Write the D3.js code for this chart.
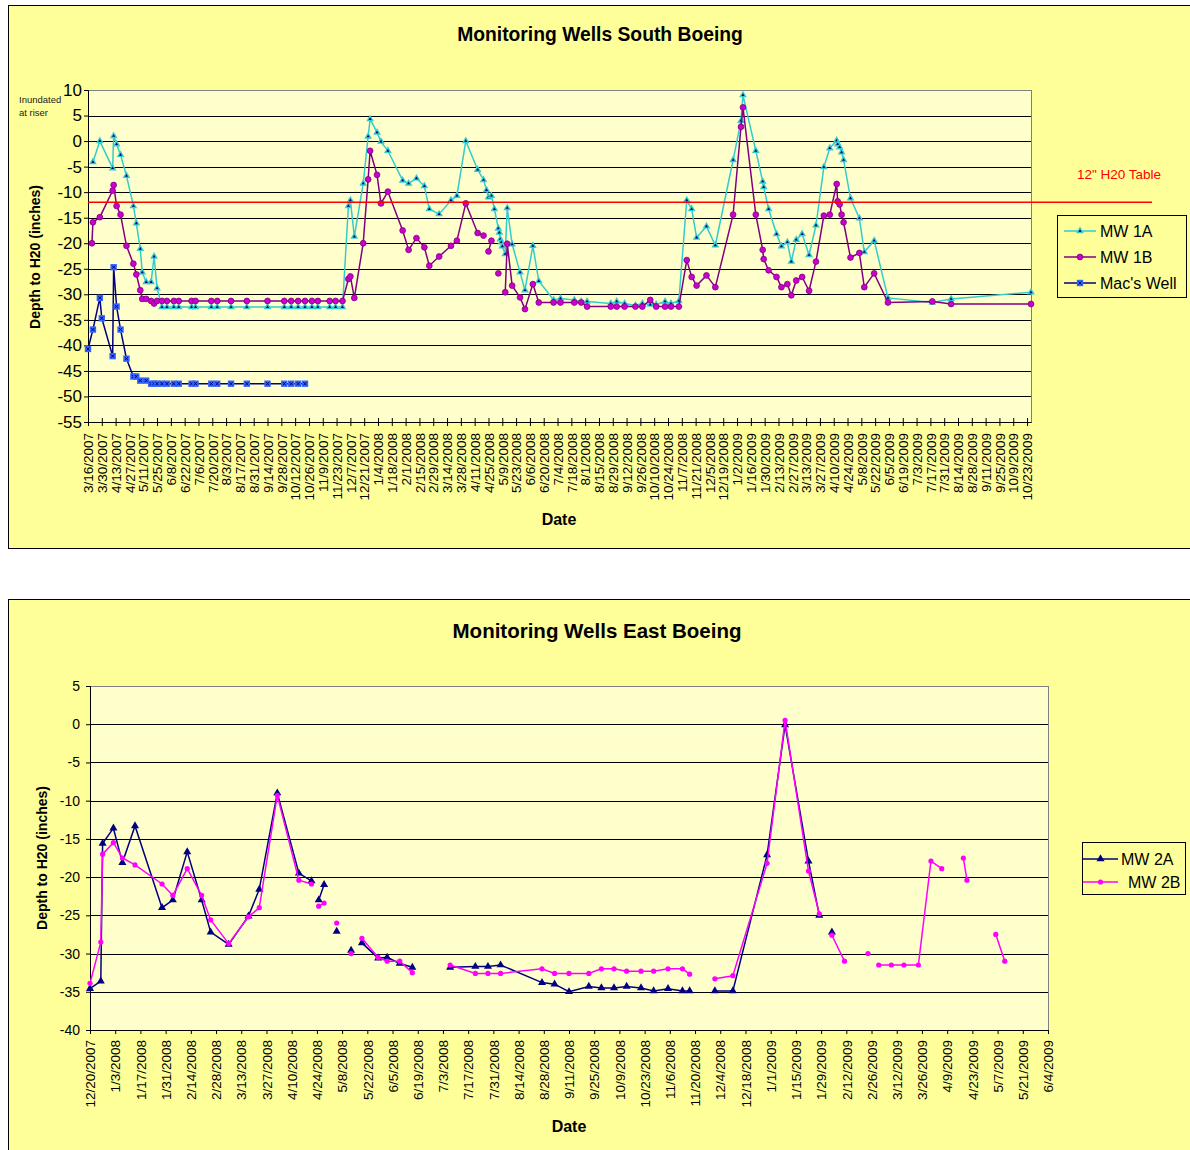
<!DOCTYPE html>
<html>
<head>
<meta charset="utf-8">
<script src="https://cdn.jsdelivr.net/npm/d3@7"></script>
<style>
body { margin: 0; background: #fff; }
text { font-family: Arial, "Liberation Sans", sans-serif; }
</style>
</head>
<body>
<div id="chart"></div>
<script>

// ---- South Boeing wells (MW 1A / MW 1B share one date column)
var southDates = ["2007-03-20","2007-03-21","2007-03-28","2007-04-10","2007-04-11","2007-04-14","2007-04-18","2007-04-24","2007-05-01","2007-05-04",
  "2007-05-08","2007-05-10","2007-05-14","2007-05-19","2007-05-22","2007-05-25","2007-05-30","2007-06-04","2007-06-11","2007-06-16",
  "2007-06-29","2007-07-03","2007-07-19","2007-07-25","2007-08-08","2007-08-24","2007-09-14","2007-10-01","2007-10-08","2007-10-15",
  "2007-10-22","2007-10-29","2007-11-04","2007-11-16","2007-11-22","2007-11-29","2007-12-05","2007-12-07","2007-12-11","2007-12-20",
  "2007-12-25","2007-12-27","2008-01-03","2008-01-07","2008-01-14","2008-01-29","2008-02-04","2008-02-12","2008-02-20","2008-02-25",
  "2008-03-06","2008-03-18","2008-03-24","2008-04-02","2008-04-14","2008-04-20","2008-04-23","2008-04-25","2008-04-28","2008-05-01",
  "2008-05-05","2008-05-06","2008-05-07","2008-05-08","2008-05-09","2008-05-12","2008-05-14","2008-05-19","2008-05-27","2008-06-01",
  "2008-06-09","2008-06-15","2008-06-30","2008-07-07","2008-07-21","2008-07-28","2008-08-03","2008-08-27","2008-09-02","2008-09-10",
  "2008-09-21","2008-09-28","2008-10-06","2008-10-12","2008-10-21","2008-10-27","2008-11-04","2008-11-12","2008-11-17","2008-11-22",
  "2008-12-02","2008-12-11","2008-12-29","2009-01-06","2009-01-08","2009-01-21","2009-01-28","2009-01-29","2009-02-03","2009-02-11",
  "2009-02-16","2009-02-22","2009-02-26","2009-03-03","2009-03-09","2009-03-16","2009-03-23","2009-03-31","2009-04-06","2009-04-13",
  "2009-04-14","2009-04-16","2009-04-18","2009-04-20","2009-04-27","2009-05-06","2009-05-11","2009-05-21","2009-06-04","2009-07-19",
  "2009-08-07","2009-10-27"];

var mw1a = [null, -4.1, 0.0, -5.3, 1.0, -0.6, -2.7, -6.8, -12.7, -16.1,
  -21.1, -25.7, -27.6, -27.6, -22.6, -28.8, -32.5, -32.5, -32.5, -32.5,
  -32.5, -32.5, -32.5, -32.5, -32.5, -32.5, -32.5, -32.5, -32.5, -32.5,
  -32.5, -32.5, -32.5, -32.5, -32.5, -32.5, -12.7, -11.6, -18.7, -8.3,
  0.9, 4.3, 1.7, -0.1, -1.9, -7.7, -8.3, -7.3, -8.8, -13.3,
  -14.3, -11.6, -10.7, 0.0, -5.6, -7.6, -9.6, -11.0, -10.7, -13.3,
  -17.1, -17.9, -19.2, -19.8, -20.6, -22.1, -13.1, -20.2, -25.7, -29.2,
  -20.5, -27.4, -31.1, -30.8, -31.1, -31.4, -31.4, -31.8, -31.4, -31.8,
  -32.2, -31.8, -32.0, -32.0, -31.4, -31.8, -31.3, -11.6, -13.3, -18.9,
  -16.7, -20.4, -3.7, 4.0, 9.0, -1.9, -7.9, -9.0, -13.3, -18.2,
  -20.6, -19.8, -23.6, -19.3, -18.2, -22.3, -16.5, -5.1, -1.4, 0.1,
  -0.6, -1.2, -2.2, -3.7, -11.2, -15.1, -21.7, -19.5, -30.7, -31.6,
  -30.9, -29.6];

var mw1b = [-20.0, -15.9, -14.9, -9.7, -8.6, -12.7, -14.4, -20.5, -24.0, -26.1,
  -29.2, -30.9, -30.9, -31.3, -31.8, -31.3, -31.3, -31.3, -31.3, -31.3,
  -31.3, -31.3, -31.3, -31.3, -31.3, -31.3, -31.3, -31.3, -31.3, -31.3,
  -31.3, -31.3, -31.3, -31.3, -31.3, -31.3, -27.0, -26.5, -30.7, -20.0,
  -7.5, -1.9, -6.6, -12.2, -9.9, -17.5, -21.3, -19.0, -20.8, -24.4,
  -22.6, -20.5, -19.5, -12.2, -18.0, -18.5, null, -21.6, -19.5, null,
  -25.9, null, null, null, null, -29.6, -20.1, -28.3, -30.6, -32.9,
  -28.0, -31.6, -31.6, -31.6, -31.6, -31.6, -32.4, -32.4, -32.4, -32.4,
  -32.4, -32.4, -31.1, -32.4, -32.4, -32.4, -32.4, -23.3, -26.6, -28.3,
  -26.3, -28.6, -14.4, 2.8, 6.6, -14.4, -21.3, -23.1, -25.3, -26.6,
  -28.6, -28.0, -30.2, -27.3, -26.6, -29.3, -23.6, -14.6, -14.4, -8.4,
  -11.8, -12.4, -14.4, -15.9, -22.8, -21.9, -28.6, -25.9, -31.6, -31.4,
  -31.9, -31.9];

var macDates = ["2007-03-16","2007-03-21","2007-03-28","2007-03-30","2007-04-10","2007-04-11","2007-04-14","2007-04-18","2007-04-24","2007-05-01",
  "2007-05-04","2007-05-08","2007-05-14","2007-05-19","2007-05-22","2007-05-25","2007-05-30","2007-06-04","2007-06-11","2007-06-16",
  "2007-06-29","2007-07-03","2007-07-19","2007-07-25","2007-08-08","2007-08-24","2007-09-14","2007-10-01","2007-10-08","2007-10-15",
  "2007-10-22"];
var macWell = [-40.7, -36.9, -30.7, -34.7, -42.1, -24.7, -32.4, -36.9, -42.6, -46.1,
  -46.1, -46.9, -46.9, -47.5, -47.5, -47.5, -47.5, -47.5, -47.5, -47.5,
  -47.5, -47.5, -47.5, -47.5, -47.5, -47.5, -47.5, -47.5, -47.5, -47.5,
  -47.5];

var southYTicks = [10, 5, 0, -5, -10, -15, -20, -25, -30, -35, -40, -45, -50, -55];
var southRange = ["2007-03-16", "2009-10-27"];
var southFirstTick = "2007-03-16", southLastTick = "2009-10-23";
var waterTable = -12;

// ---- East Boeing wells
var eastDates = ["2007-12-20","2007-12-26","2007-12-27","2008-01-02","2008-01-07","2008-01-14","2008-01-29","2008-02-04","2008-02-12","2008-02-20",
  "2008-02-25","2008-03-06","2008-03-17","2008-03-23","2008-04-02","2008-04-14","2008-04-21","2008-04-23","2008-04-25","2008-04-28",
  "2008-05-01","2008-05-05","2008-05-09","2008-05-13","2008-05-16","2008-05-19","2008-05-28","2008-06-02","2008-06-09","2008-06-16",
  "2008-06-25","2008-07-07","2008-07-21","2008-07-28","2008-08-04","2008-08-27","2008-09-03","2008-09-11","2008-09-22","2008-09-29",
  "2008-10-06","2008-10-13","2008-10-21","2008-10-28","2008-11-05","2008-11-13","2008-11-17","2008-11-24","2008-12-01","2008-12-11",
  "2008-12-30","2009-01-09","2009-01-22","2009-01-28","2009-02-01","2009-02-04","2009-02-11","2009-02-18","2009-02-24","2009-02-27",
  "2009-03-02","2009-03-09","2009-03-16","2009-03-24","2009-03-31","2009-04-06","2009-04-12","2009-04-18","2009-04-20","2009-04-28",
  "2009-05-06","2009-05-11"];

var mw2a = [-34.6, -33.6, -15.6, -13.6, -18.1, -13.3, -24.0, -23.0, -16.7, -23.0,
  -27.2, -28.8, -25.1, -21.6, -9.0, -19.5, -20.5, null, -23.0, -21.0,
  null, -27.1, null, -29.6, null, -28.6, -30.6, -30.5, -31.3, -31.8,
  null, -31.8, -31.7, -31.7, -31.5, -33.8, -34.0, -35.0, -34.3, -34.5,
  -34.5, -34.3, -34.5, -34.9, -34.6, -34.9, -34.9, null, -34.9, -34.9,
  -17.1, -0.1, -17.9, -25.0, null, -27.2, null, null, null, null,
  null, null, null, null, null, null, null, null, null, null,
  null, null];

var mw2b = [-33.9, -28.5, -17.0, -15.5, -17.5, -18.4, -20.9, -22.4, -18.9, -22.4,
  -25.6, -28.7, -25.2, -24.0, -9.3, -20.4, -20.9, null, -23.8, -23.4,
  null, -26.0, null, -30.0, null, -28.0, -30.5, -31.0, -31.0, -32.5,
  null, -31.5, -32.6, -32.6, -32.6, -32.0, -32.6, -32.6, -32.6, -32.0,
  -32.0, -32.3, -32.3, -32.3, -32.0, -32.0, -32.7, null, -33.3, -32.9,
  -18.2, 0.5, -19.2, -24.8, null, -27.6, -31.0, null, -30.0, null,
  -31.5, -31.5, -31.5, -31.5, -17.9, -18.9, null, -17.5, -20.4, null,
  -27.5, -31.0];

var eastYTicks = [5, 0, -5, -10, -15, -20, -25, -30, -35, -40];
var eastRange = ["2007-12-20", "2009-06-04"];
var eastFirstTick = "2007-12-20", eastLastTick = "2009-06-04";

var parse = d3.timeParse("%Y-%m-%d");
function fmt(d) { return (d.getMonth() + 1) + "/" + d.getDate() + "/" + d.getFullYear(); }

var svg = d3.select("#chart").append("svg")
    .attr("width", 1190)
    .attr("height", 1150);

// markers
function triCyan(g) {
  g.append("path").attr("d", d3.symbol(d3.symbolTriangle, 26)()).attr("fill", "#33CCCC");
  g.append("path").attr("d", d3.symbol(d3.symbolTriangle, 4)()).attr("fill", "#000080");
}
function dotPurple(g) {
  g.append("circle").attr("r", 2.9).attr("fill", "#CC00CC").attr("stroke", "#800080").attr("stroke-width", 0.8);
}
function sqBlue(g) {
  g.append("rect").attr("x", -3.2).attr("y", -3.2).attr("width", 6.4).attr("height", 6.4).attr("fill", "#3366FF");
  g.append("path").attr("d", "M-1.6,-1.6L1.6,1.6M1.6,-1.6L-1.6,1.6").attr("stroke", "#000080").attr("stroke-width", 1);
}
function triNavy(g) {
  g.append("path").attr("d", d3.symbol(d3.symbolTriangle, 28)()).attr("fill", "#000080");
}
function dotPink(g) {
  g.append("circle").attr("r", 2.6).attr("fill", "#FF00FF");
}

function panel(y0, h) {
  svg.append("rect")
      .attr("x", 8.5).attr("y", y0 + 0.5)
      .attr("width", 1200).attr("height", h)
      .attr("fill", "#FFFF99").attr("stroke", "#000");
}

function chart(o) {
  var g = svg.append("g");
  var x = d3.scaleTime().domain(o.xDomain.map(parse)).range([o.left, o.right]);
  var y = d3.scaleLinear().domain(d3.extent(o.yTicks)).range([o.bottom, o.top]);

  g.append("rect")
      .attr("x", o.left + 0.5).attr("y", o.top + 0.5)
      .attr("width", o.right - o.left).attr("height", o.bottom - o.top)
      .attr("fill", "#FFFFCC").attr("stroke", "#808080");

  g.append("g").selectAll("line")
      .data(o.yTicks.slice(1, -1))
      .enter().append("line")
      .attr("x1", o.left).attr("x2", o.right)
      .attr("y1", function(d) { return Math.round(y(d)) + 0.5; })
      .attr("y2", function(d) { return Math.round(y(d)) + 0.5; })
      .attr("stroke", "#000");

  var yAxis = g.append("g")
      .attr("transform", "translate(" + o.left + ",0)")
      .call(d3.axisLeft(y).tickValues(o.yTicks).tickSize(4).tickPadding(o.yPad).tickFormat(String));
  yAxis.attr("font-size", o.yFont).attr("font-family", "Arial, 'Liberation Sans', sans-serif");
  yAxis.selectAll(".tick text").attr("fill", "#000");

  var ticks = d3.timeDay.range(parse(o.firstTick), d3.timeDay.offset(parse(o.lastTick), 1), 14);
  var xAxis = g.append("g")
      .attr("transform", "translate(0," + o.bottom + ")")
      .call(d3.axisBottom(x).tickValues(ticks).tickSize(4).tickSizeOuter(0).tickFormat(fmt));
  xAxis.attr("font-size", 13.5).attr("font-family", "Arial, 'Liberation Sans', sans-serif");
  xAxis.selectAll(".tick text")
      .attr("transform", "rotate(-90)")
      .attr("x", -o.xPad).attr("y", 0).attr("dy", "0.35em")
      .style("text-anchor", "end");
  if (o.cross) xAxis.selectAll(".tick line").attr("y1", -4);

  o.series.forEach(function(s) {
    var pts = s.dates.map(function(d, i) { return { date: parse(d), v: s.values[i] }; });
    var line = d3.line()
        .defined(function(d) { return d.v != null; })
        .x(function(d) { return x(d.date); })
        .y(function(d) { return y(d.v); });
    g.append("path").datum(pts)
        .attr("d", line)
        .attr("fill", "none")
        .attr("stroke", s.color)
        .attr("stroke-width", 1.5);
    g.append("g").selectAll("g")
        .data(pts.filter(function(d) { return d.v != null; }))
        .enter().append("g")
        .attr("transform", function(d) { return "translate(" + x(d.date) + "," + y(d.v) + ")"; })
        .each(function() { s.marker(d3.select(this)); });
  });

  return { x: x, y: y };
}

function legend(box, items) {
  svg.append("rect")
      .attr("x", box.x + 0.5).attr("y", box.y + 0.5)
      .attr("width", box.w).attr("height", box.h)
      .attr("fill", "#FFFF99").attr("stroke", "#000");
  items.forEach(function(it, i) {
    var cy = box.first + i * box.step;
    svg.append("line")
        .attr("x1", box.lx1).attr("x2", box.lx2)
        .attr("y1", cy).attr("y2", cy)
        .attr("stroke", it.color).attr("stroke-width", 1.5);
    it.marker(svg.append("g").attr("transform", "translate(" + (box.lx1 + box.lx2) / 2 + "," + cy + ")"));
    svg.append("text")
        .attr("x", box.tx + (it.dx || 0)).attr("y", cy).attr("dy", "0.35em")
        .attr("font-size", 16)
        .text(it.name);
  });
}

// ===== top chart
panel(5, 543);

svg.append("text").attr("x", 600).attr("y", 41)
    .attr("text-anchor", "middle").attr("font-size", 19.3).attr("font-weight", "bold")
    .text("Monitoring Wells South Boeing");

var south = chart({
  left: 88, right: 1031, top: 90, bottom: 422,
  xDomain: southRange, firstTick: southFirstTick, lastTick: southLastTick,
  yTicks: southYTicks, yFont: 17, yPad: 2, xPad: 11, cross: true,
  series: [
    { dates: southDates, values: mw1a, color: "#33CCCC", marker: triCyan },
    { dates: southDates, values: mw1b, color: "#800080", marker: dotPurple },
    { dates: macDates, values: macWell, color: "#000080", marker: sqBlue }
  ]
});

svg.append("line")
    .attr("x1", 88).attr("x2", 1152)
    .attr("y1", south.y(waterTable)).attr("y2", south.y(waterTable))
    .attr("stroke", "#FF0000").attr("stroke-width", 1.5);
svg.append("text").attr("x", 1077).attr("y", 179)
    .attr("font-size", 13.5).attr("fill", "#FF0000")
    .text("12\" H20 Table");

svg.append("text").attr("x", 19).attr("y", 103).attr("font-size", 9.5).attr("fill", "#222").text("Inundated");
svg.append("text").attr("x", 19).attr("y", 116).attr("font-size", 9.5).attr("fill", "#222").text("at riser");

svg.append("text")
    .attr("transform", "translate(40,257) rotate(-90)")
    .attr("text-anchor", "middle").attr("font-size", 14).attr("font-weight", "bold")
    .text("Depth to H20 (inches)");
svg.append("text").attr("x", 559).attr("y", 525)
    .attr("text-anchor", "middle").attr("font-size", 16).attr("font-weight", "bold")
    .text("Date");

legend({ x: 1057, y: 215, w: 129, h: 82, first: 231, step: 26, lx1: 1064, lx2: 1096, tx: 1100 }, [
  { name: "MW  1A", color: "#33CCCC", marker: triCyan },
  { name: "MW  1B", color: "#800080", marker: dotPurple },
  { name: "Mac's Well", color: "#000080", marker: sqBlue }
]);

// ===== bottom chart
panel(599, 600);

svg.append("text").attr("x", 597).attr("y", 638)
    .attr("text-anchor", "middle").attr("font-size", 20.5).attr("font-weight", "bold")
    .text("Monitoring Wells East Boeing");

chart({
  left: 90, right: 1048, top: 686, bottom: 1030,
  xDomain: eastRange, firstTick: eastFirstTick, lastTick: eastLastTick,
  yTicks: eastYTicks, yFont: 14, yPad: 6, xPad: 10, cross: false,
  series: [
    { dates: eastDates, values: mw2a, color: "#000080", marker: triNavy },
    { dates: eastDates, values: mw2b, color: "#FF00FF", marker: dotPink }
  ]
});

svg.append("text")
    .attr("transform", "translate(47,858) rotate(-90)")
    .attr("text-anchor", "middle").attr("font-size", 14).attr("font-weight", "bold")
    .text("Depth to H20 (inches)");
svg.append("text").attr("x", 569).attr("y", 1132)
    .attr("text-anchor", "middle").attr("font-size", 16).attr("font-weight", "bold")
    .text("Date");

legend({ x: 1082, y: 842, w: 103, h: 52, first: 859, step: 23, lx1: 1083, lx2: 1118, tx: 1121 }, [
  { name: "MW  2A", color: "#000080", marker: triNavy },
  { name: "MW  2B", color: "#FF00FF", marker: dotPink, dx: 7 }
]);

</script>
</body>
</html>
